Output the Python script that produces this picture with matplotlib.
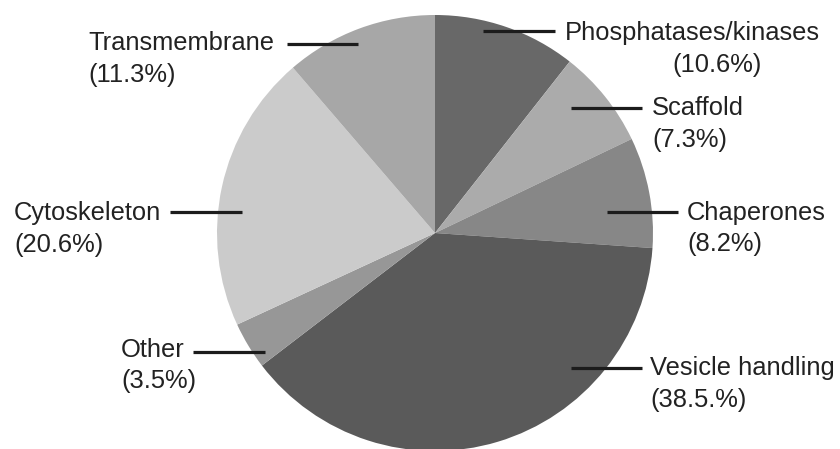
import matplotlib.pyplot as plt

plt.rcParams['font.family'] = ['Liberation Sans', 'DejaVu Sans']

# protein classes, clockwise from 12 o'clock
categories = ["Phosphatases/kinases", "Scaffold", "Chaperones", "Vesicle handling",
              "Other", "Cytoskeleton", "Transmembrane"]
shares = [10.6, 7.3, 8.2, 38.5, 3.5, 20.6, 11.3]
share_text = ["(10.6%)", "(7.3%)", "(8.2%)", "(38.5.%)", "(3.5%)", "(20.6%)", "(11.3%)"]
greys = ["#686868", "#ababab", "#878787", "#5a5a5a", "#979797", "#cbcbcb", "#a7a7a7"]

W, H = 840, 449

# label layout in pixel units (top-left origin): name x, name baseline, pct x, pct baseline,
# leader line x0, x1, y
name_pos = [(565, 40), (652, 115), (687, 220), (650, 375), (121, 357), (14, 220), (88, 50)]
pct_pos = [(672, 72), (652, 147), (687, 251), (650, 407), (121, 388), (14, 252), (88, 82)]
leaders = [(483, 555, 31), (571, 642, 108), (607, 678, 212), (571, 642, 368),
           (193, 265, 352), (170, 242, 212), (287, 358, 44)]

fig = plt.figure(figsize=(W / 100, H / 100), dpi=100)
ax = fig.add_axes([0, 0, 1, 1])

ax.pie(shares, colors=greys, startangle=90, counterclock=False,
       center=(435, H - 233), radius=218, frame=True,
       wedgeprops=dict(linewidth=0))
ax.set_xlim(0, W)
ax.set_ylim(0, H)
ax.axis("off")

for name, pct, (nx, ny), (px, py), (x0, x1, ly) in zip(categories, share_text,
                                                      name_pos, pct_pos, leaders):
    ax.plot([x0, x1], [H - ly, H - ly], color="#1c1c1c", lw=2.3, solid_capstyle="butt")
    ax.text(nx, H - ny, name, fontsize=18.4, color="#222222", va="baseline", ha="left")
    ax.text(px, H - py, pct, fontsize=18.4, color="#222222", va="baseline", ha="left")

fig.savefig("out.png", dpi=100)
